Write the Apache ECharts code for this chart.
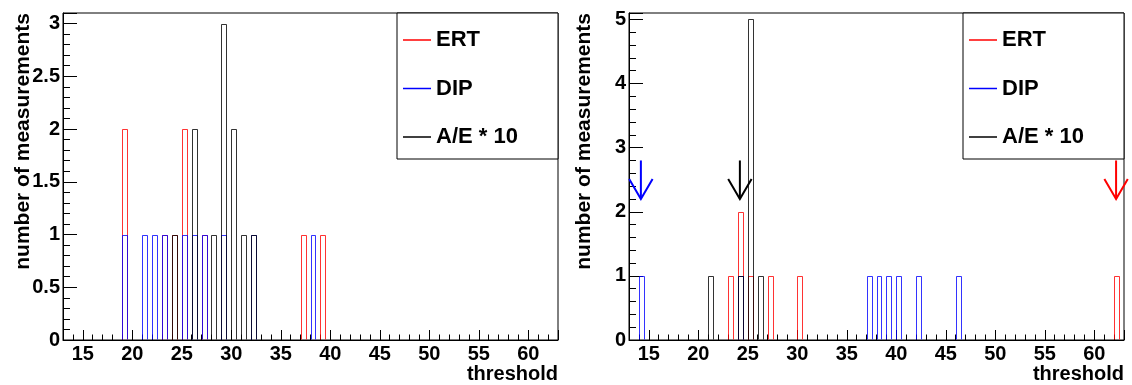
<!DOCTYPE html>
<html>
<head>
<meta charset="utf-8">
<script src="https://cdn.jsdelivr.net/npm/echarts@6/dist/echarts.min.js"></script>
<style>
html, body { margin: 0; padding: 0; background: #ffffff; }
#chart { width: 1132px; height: 385px; }
</style>
</head>
<body>
<div id="chart"></div>
<script>
// ---------------- data ----------------
const seriesNames = ['ERT', 'DIP', 'A/E * 10'];
const binWidth = 0.5;
const xRange = [13, 63];
const xTickStep = 5;
const leftYMax = 3.1;
const leftYStep = 0.5;
const rightYMax = 5.1;
const rightYStep = 1;
const xTitle = 'threshold';
const yTitle = 'number of measurements';

// [threshold, number of measurements]
const leftERT = [[19, 2], [23, 1], [24, 1], [25, 2], [27, 1], [37, 1], [39, 1]];
const leftDIP = [[19, 1], [21, 1], [22, 1], [23, 1], [25, 1], [26, 1], [27, 1], [29, 1], [32, 1], [38, 1]];
const leftAE  = [[24, 1], [26, 2], [28, 1], [29, 3], [30, 2], [31, 1], [32, 1]];

const rightERT = [[23, 1], [24, 2], [25, 1], [27, 1], [30, 1], [62, 1]];
const rightDIP = [[14, 1], [24, 1], [37, 1], [38, 1], [39, 1], [40, 1], [42, 1], [46, 1]];
const rightAE  = [[21, 1], [24, 1], [25, 5], [26, 1]];

// arrows in right panel, order: ERT, DIP, A/E * 10  -> [threshold, arrow top, arrow tip]
const rightArrows = [[62.2, 2.8, 2.2], [14.2, 2.8, 2.2], [24.2, 2.8, 2.2]];

// ---------------- style ----------------
const FONT = '"Liberation Sans", Arial, Helvetica, sans-serif';
const COLORS = ['#ff0000', '#0000ff', '#000000'];
const HIST_OPACITY = 0.8;

function histRender(params, api) {
  const x = api.value(0), n = api.value(1);
  const p0 = api.coord([x, 0]);
  const p1 = api.coord([x + binWidth, n]);
  const xl = Math.round(p0[0]) + 0.5, xr = Math.round(p1[0]) + 0.5;
  const yb = Math.round(p0[1]) - 0.5, yt = Math.round(p1[1]) + 0.5;
  return {
    type: 'polyline',
    shape: { points: [[xl, yb], [xl, yt], [xr, yt], [xr, yb]] },
    style: { stroke: api.visual('color'), fill: null, lineWidth: 1, opacity: HIST_OPACITY }
  };
}

function arrowRender(params, api) {
  const x = api.value(0);
  const top = api.coord([x, api.value(1)]);
  const tip = api.coord([x, api.value(2)]);
  const c = COLORS[params.dataIndex];
  const wx = 11.7, wy = 20;
  const st = { stroke: c, lineWidth: 2, fill: null };
  return {
    type: 'group',
    children: [
      { type: 'line', shape: { x1: top[0], y1: top[1], x2: tip[0], y2: tip[1] }, style: st },
      { type: 'polyline', shape: { points: [[tip[0] - wx, tip[1] - wy], [tip[0], tip[1]], [tip[0] + wx, tip[1] - wy]] }, style: st }
    ]
  };
}

function isMultiple(v, step) {
  const r = v / step;
  return Math.abs(r - Math.round(r)) < 1e-6;
}

function xAxisFor(gi) {
  return {
    type: 'value', gridIndex: gi, min: xRange[0], max: xRange[1],
    minInterval: xTickStep, maxInterval: xTickStep,
    axisLine: { show: true, onZero: false, lineStyle: { color: '#000', width: 1 } },
    axisTick: { show: true, inside: true, length: 10, lineStyle: { color: '#000', width: 1 } },
    minorTick: { show: true, splitNumber: 5, length: 5.5, lineStyle: { color: '#000', width: 1 } },
    splitLine: { show: false },
    minorSplitLine: { show: false },
    axisLabel: {
      fontFamily: FONT, fontWeight: 'bold', fontSize: 20, color: '#000', margin: 4,
      formatter: v => (isMultiple(v, xTickStep) ? String(v) : '')
    }
  };
}

function yAxisFor(gi, max, step) {
  return {
    type: 'value', gridIndex: gi, min: 0, max: max, interval: step,
    axisLine: { show: true, lineStyle: { color: '#000', width: 1 } },
    axisTick: { show: true, inside: true, length: 14, lineStyle: { color: '#000', width: 1 } },
    minorTick: { show: true, splitNumber: 5, length: 7, lineStyle: { color: '#000', width: 1 } },
    splitLine: { show: false },
    axisLabel: {
      fontFamily: FONT, fontWeight: 'bold', fontSize: 20, color: '#000', margin: 3,
      formatter: v => (isMultiple(v, step) ? String(v) : '')
    }
  };
}

function histSeries(name, data, xi, ci) {
  return {
    type: 'custom', name: name, xAxisIndex: xi, yAxisIndex: xi,
    itemStyle: { color: COLORS[ci] },
    renderItem: histRender,
    data: data, z: 2 + ci
  };
}

function legendAt(left) {
  return {
    left: left, top: 13, orient: 'vertical',
    data: seriesNames.map(n => ({ name: n, icon: 'rect' })),
    itemWidth: 28, itemHeight: 1.5, itemGap: 26.5,
    padding: [16, 2, 11, 6],
    backgroundColor: '#ffffff', borderColor: '#000', borderWidth: 1, borderRadius: 0,
    selectedMode: false,
    textStyle: { fontFamily: FONT, fontWeight: 'bold', fontSize: 22, color: '#000', width: 120, lineHeight: 22 }
  };
}

function titleTexts(gridLeft, gridRight, yTitleX) {
  return [
    { type: 'text', x: gridRight, y: 374, z: 10,
      style: { text: xTitle, font: 'bold 20px ' + FONT, fill: '#000', align: 'right', verticalAlign: 'middle' } },
    { type: 'text', x: yTitleX, y: 13, rotation: Math.PI / 2, z: 10,
      style: { text: yTitle, font: 'bold 21px ' + FONT, fill: '#000', align: 'right', verticalAlign: 'middle' } }
  ];
}

const chart = echarts.init(document.getElementById('chart'), null, { renderer: 'canvas' });
chart.setOption({
  backgroundColor: '#ffffff',
  animation: false,
  grid: [
    { left: 63, top: 13, width: 495, height: 327, show: true, borderColor: '#000', borderWidth: 1, backgroundColor: 'transparent' },
    { left: 629, top: 13, width: 495, height: 327, show: true, borderColor: '#000', borderWidth: 1, backgroundColor: 'transparent' }
  ],
  xAxis: [xAxisFor(0), xAxisFor(1)],
  yAxis: [yAxisFor(0, leftYMax, leftYStep), yAxisFor(1, rightYMax, rightYStep)],
  legend: [legendAt(397), legendAt(963)],
  graphic: titleTexts(63, 558, 23).concat(titleTexts(629, 1124, 584)),
  series: [
    histSeries(seriesNames[0], leftERT, 0, 0),
    histSeries(seriesNames[1], leftDIP, 0, 1),
    histSeries(seriesNames[2], leftAE, 0, 2),
    histSeries(seriesNames[0], rightERT, 1, 0),
    histSeries(seriesNames[1], rightDIP, 1, 1),
    histSeries(seriesNames[2], rightAE, 1, 2),
    {
      type: 'custom', name: 'arrows', xAxisIndex: 1, yAxisIndex: 1,
      renderItem: arrowRender, data: rightArrows, z: 6
    }
  ]
});
</script>
</body>
</html>
